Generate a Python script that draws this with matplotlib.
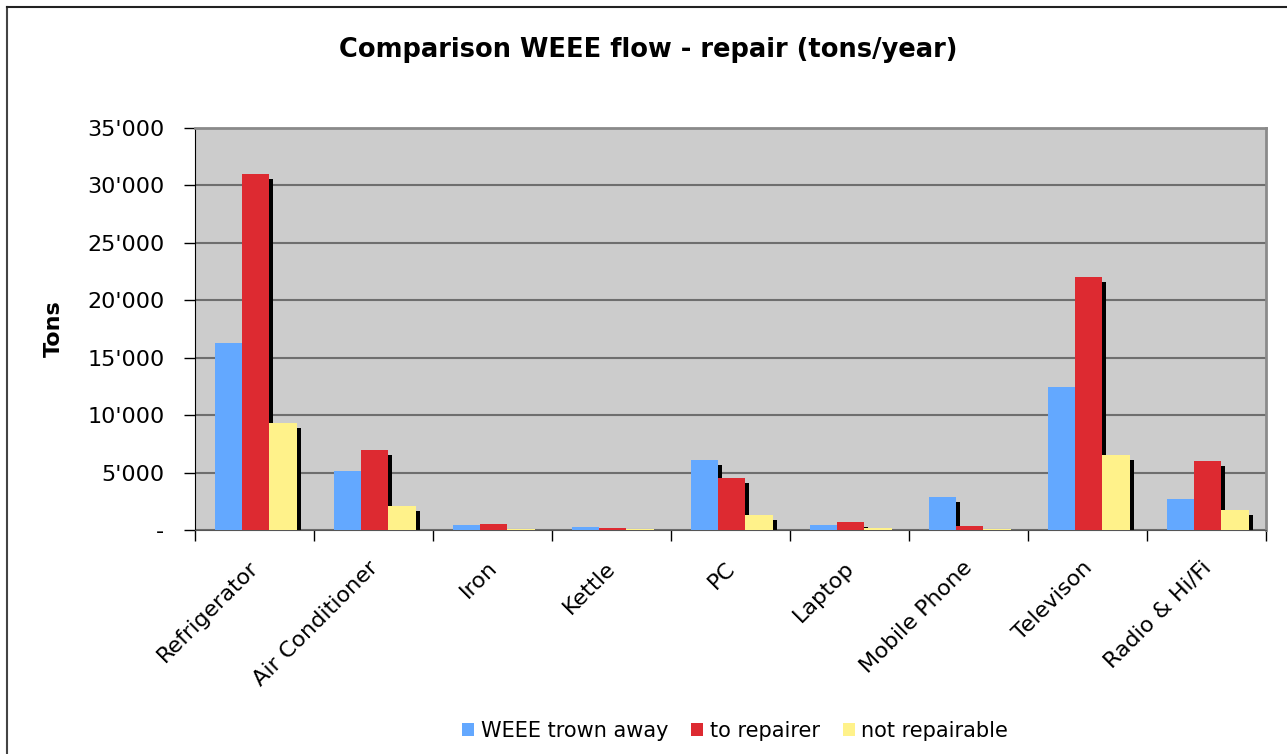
import numpy as np
import matplotlib
matplotlib.use('Agg')
from matplotlib import pyplot as plt
from matplotlib.lines import Line2D
from matplotlib.transforms import ScaledTranslation

categories = ["Refrigerator", "Air Conditioner", "Iron", "Kettle", "PC",
              "Laptop", "Mobile Phone", "Televison", "Radio & Hi/Fi"]
thrown_away = [16250, 5150, 400, 300, 6100, 400, 2850, 12450, 2700]
to_repairer = [31000, 7000, 500, 200, 4500, 700, 350, 22000, 6000]
not_repairable = [9300, 2100, 100, 50, 1300, 150, 50, 6550, 1750]

series = [("WEEE trown away", thrown_away, "#63a8ff"),
          ("to repairer", to_repairer, "#dd2a31"),
          ("not repairable", not_repairable, "#fff28a")]

plt.rcParams['font.family'] = ['DejaVu Sans']

fig = plt.figure(figsize=(12.87, 7.54), dpi=100)
ax = fig.add_axes([195/1287, 1-530/754, (1266-195)/1287, (530-128)/754])
ax.set_facecolor("#cccccc")

x = np.arange(len(categories))
w = 0.23
shadow_dx = 0.034
shadow_dy = 430

for i, (name, vals, col) in enumerate(series):
    pos = x + (i - 1) * w + 0.01
    sh = np.clip(np.array(vals) - shadow_dy, 0, None)
    ax.bar(pos + shadow_dx, sh, w, color="black", zorder=2)
    ax.bar(pos, vals, w, color=col, label=name, zorder=3)

ax.set_xlim(-0.5, len(categories) - 0.5)
ax.set_ylim(0, 35000)
ax.set_yticks(np.arange(0, 35001, 5000))
ax.set_yticklabels(["-" if v == 0 else f"{v:,}".replace(",", "'") for v in range(0, 35001, 5000)],
                   fontsize=16)
ax.yaxis.grid(True, color="#6e6e6e", linewidth=1.5, zorder=1)
ax.set_axisbelow(True)
ax.tick_params(axis='y', length=8, width=1, pad=14)

ax.set_xticks(np.arange(-0.5, len(categories), 1))
ax.set_xticklabels([])
ax.tick_params(axis='x', which='major', length=8, width=1)
ax.set_xticks(x, minor=True)
ax.set_xticklabels(categories, minor=True, rotation=45, ha='right',
                   rotation_mode='anchor', fontsize=16)
ax.tick_params(axis='x', which='minor', length=0, pad=20)
shift = ScaledTranslation(-6/100, 0, fig.dpi_scale_trans)
for lbl in ax.get_xticklabels(minor=True):
    lbl.set_transform(lbl.get_transform() + shift)

for s in ["top", "right"]:
    ax.spines[s].set_color("#8a8a8a")
    ax.spines[s].set_linewidth(2)
ax.spines["left"].set_color("black")
ax.spines["bottom"].set_color("#555555")

ax.set_ylabel("Tons", fontsize=16, fontweight="bold", labelpad=17)
fig.text(648/1287, 1 - 50/754, "Comparison WEEE flow - repair (tons/year)",
         ha="center", va="center", fontsize=18.5, fontweight="bold")

ax.legend(loc="center", bbox_to_anchor=(735/1287, 1 - 731/754), bbox_transform=fig.transFigure,
          ncol=3, frameon=False, fontsize=15, handlelength=0.6, handleheight=0.6,
          handletextpad=0.3, columnspacing=1.1)

fig.add_artist(Line2D([7/1287, 7/1287], [0, 1 - 7/754], color="#444444", linewidth=1.5))
fig.add_artist(Line2D([7/1287, 1], [1 - 7/754, 1 - 7/754], color="#222222", linewidth=1.5))

fig.savefig("out.png", dpi=100)
